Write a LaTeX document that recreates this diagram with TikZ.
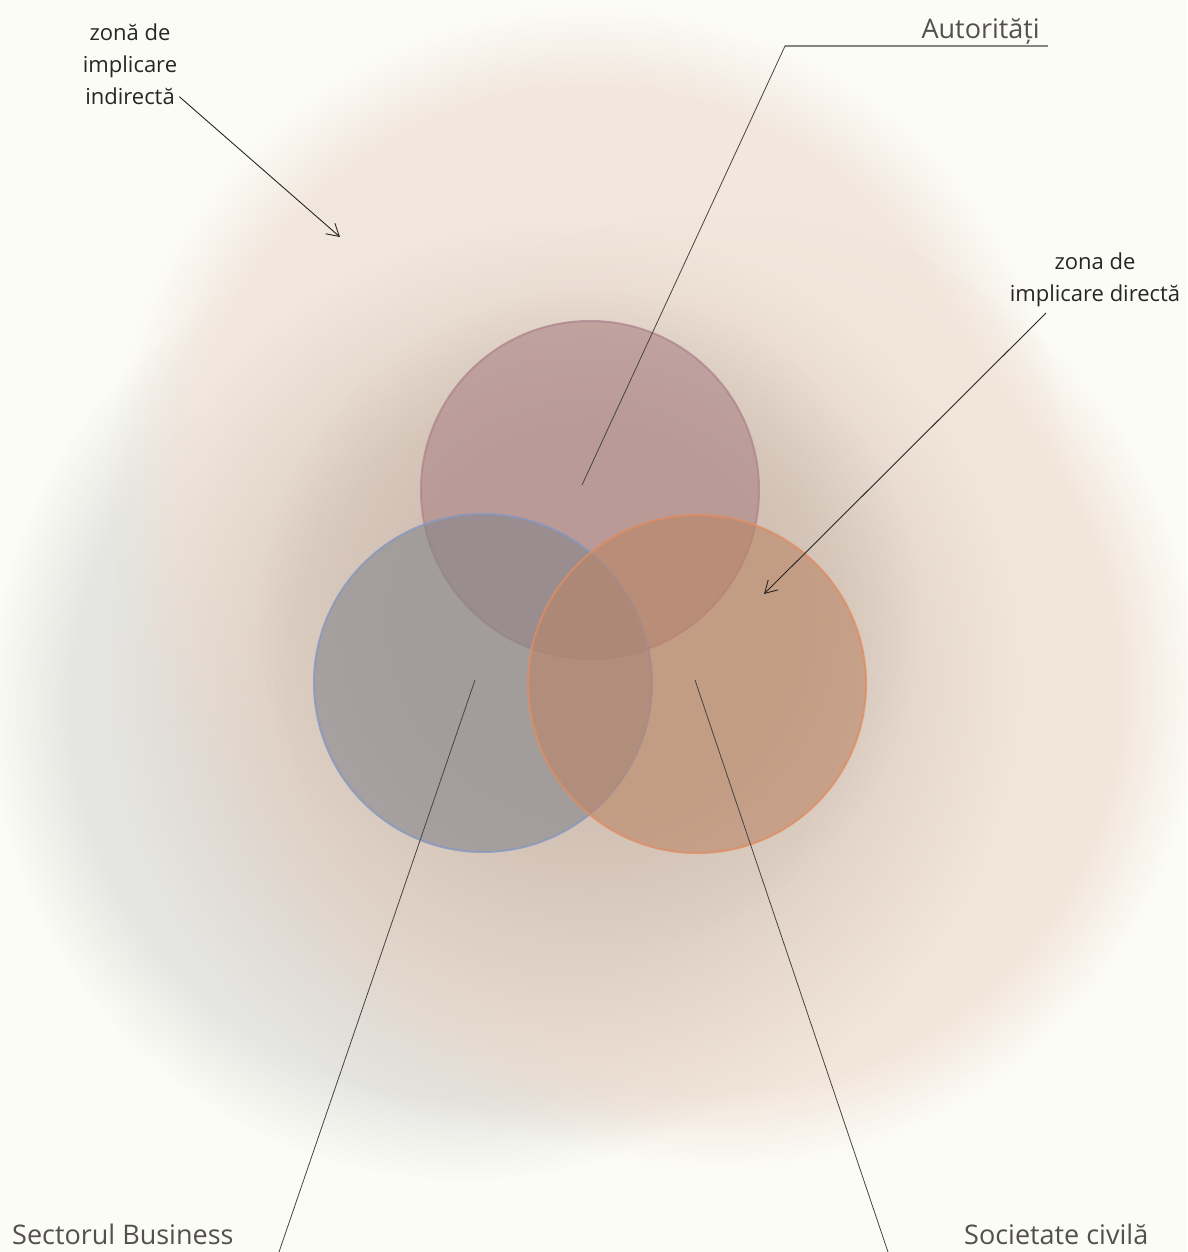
\documentclass[tikz,border=0pt]{standalone}
\usepackage{fontspec}
\setmainfont{Open Sans}
\usetikzlibrary{arrows.meta,fadings}

\definecolor{paper}{RGB}{252,252,247}
\definecolor{haloGray}{RGB}{229,229,225}
\definecolor{haloPeach}{RGB}{242,229,218}
\definecolor{haloTop}{RGB}{242,231,221}
\definecolor{haloCore}{RGB}{220,206,195}
\definecolor{haloDeep}{RGB}{200,180,166}
\definecolor{autFill}{RGB}{170,130,133}
\definecolor{autLine}{RGB}{175,135,142}
\definecolor{busFill}{RGB}{132,133,140}
\definecolor{busLine}{RGB}{135,152,190}
\definecolor{civFill}{RGB}{187,133,102}
\definecolor{civLine}{RGB}{222,142,100}
\definecolor{labelGray}{RGB}{85,80,80}
\definecolor{leadGray}{RGB}{70,68,68}

% fuzzy-edged disc and soft glow
\pgfdeclareradialshading{haloshade}{\pgfpointorigin}{color(0bp)=(white); color(20.5bp)=(white); color(25bp)=(black); color(50bp)=(black)}
\pgfdeclarefading{halo}{\pgfuseshading{haloshade}}
\pgfdeclareradialshading{glowshade}{\pgfpointorigin}{color(0bp)=(white); color(15bp)=(white); color(25bp)=(black); color(50bp)=(black)}
\pgfdeclarefading{glow}{\pgfuseshading{glowshade}}

\tikzset{
  halozone/.style={fill=#1, path fading=halo},
  glowzone/.style={fill=#1, path fading=glow},
  venn/.style={fill=#1Fill, fill opacity=0.6, draw=#1Line, draw opacity=0.8, line width=2pt},
  leader/.style={draw=leadGray, line width=0.8pt},
  pointer/.style={draw=black!85, line width=0.9pt, -{Straight Barb[length=12pt,width=14pt]}},
  biglabel/.style={font=\fontsize{27}{32}\selectfont, text=labelGray, inner sep=0pt},
  smalllabel/.style={font=\fontsize{22}{32}\selectfont, align=center, text=black!85, inner sep=0pt},
}

\begin{document}
\begin{tikzpicture}[x=1pt, y=-1pt]
    % Page and blurred zones
    \fill[paper] (0,0) rectangle (1187,1252);
    \useasboundingbox (0,0) rectangle (1187,1252);
    \fill[halozone=haloGray] (465,705) circle (475);
    \fill[halozone=haloTop] (590,485) circle (480);
    \fill[halozone=haloPeach] (720,690) circle (480);
    \fill[glowzone=haloCore, opacity=0.9] (565,680) circle (460);
    \fill[glowzone=haloDeep, opacity=0.55] (590,620) circle (330);

    % Circles of direct involvement
    \draw[venn=aut] (590,490) circle (169);
    \draw[venn=bus] (483,683) circle (169);
    \draw[venn=civ] (697,684) circle (169);

    % Labels
    \node[biglabel, anchor=base east] (aut) at (1040,39) {Autorități};
    \node[biglabel, anchor=base west] (bus) at (12,1244) {Sectorul Business};
    \node[biglabel, anchor=base west] (civ) at (964,1244) {Societate civilă};
    \node[smalllabel] (indirect) at (130,64) {zonă de\\implicare\\indirectă};
    \node[smalllabel] (direct) at (1095,280) {zona de\\implicare directă};

    % Leader lines
    \coordinate (autL) at (785,46);
    \coordinate (autR) at (1048,46);
    \coordinate (autIn) at (582,485);
    \coordinate (busIn) at (475,680);
    \coordinate (busOut) at (279,1252);
    \coordinate (civIn) at (695,680);
    \coordinate (civOut) at (888,1252);
    \draw[draw=labelGray!70, line width=1.8pt] (autL) -- (autR);
    \draw[leader] (autL) -- (autIn);
    \draw[leader] (busIn) -- (busOut);
    \draw[leader] (civIn) -- (civOut);

    % Arrows to the zones
    \coordinate (indirectTip) at (340,237);
    \coordinate (directTail) at (1046,313);
    \coordinate (directTip) at (764,594);
    \draw[pointer] (indirect.south east) ++(2,-8) -- (indirectTip);
    \draw[pointer] (directTail) -- (directTip);
\end{tikzpicture}
\end{document}
